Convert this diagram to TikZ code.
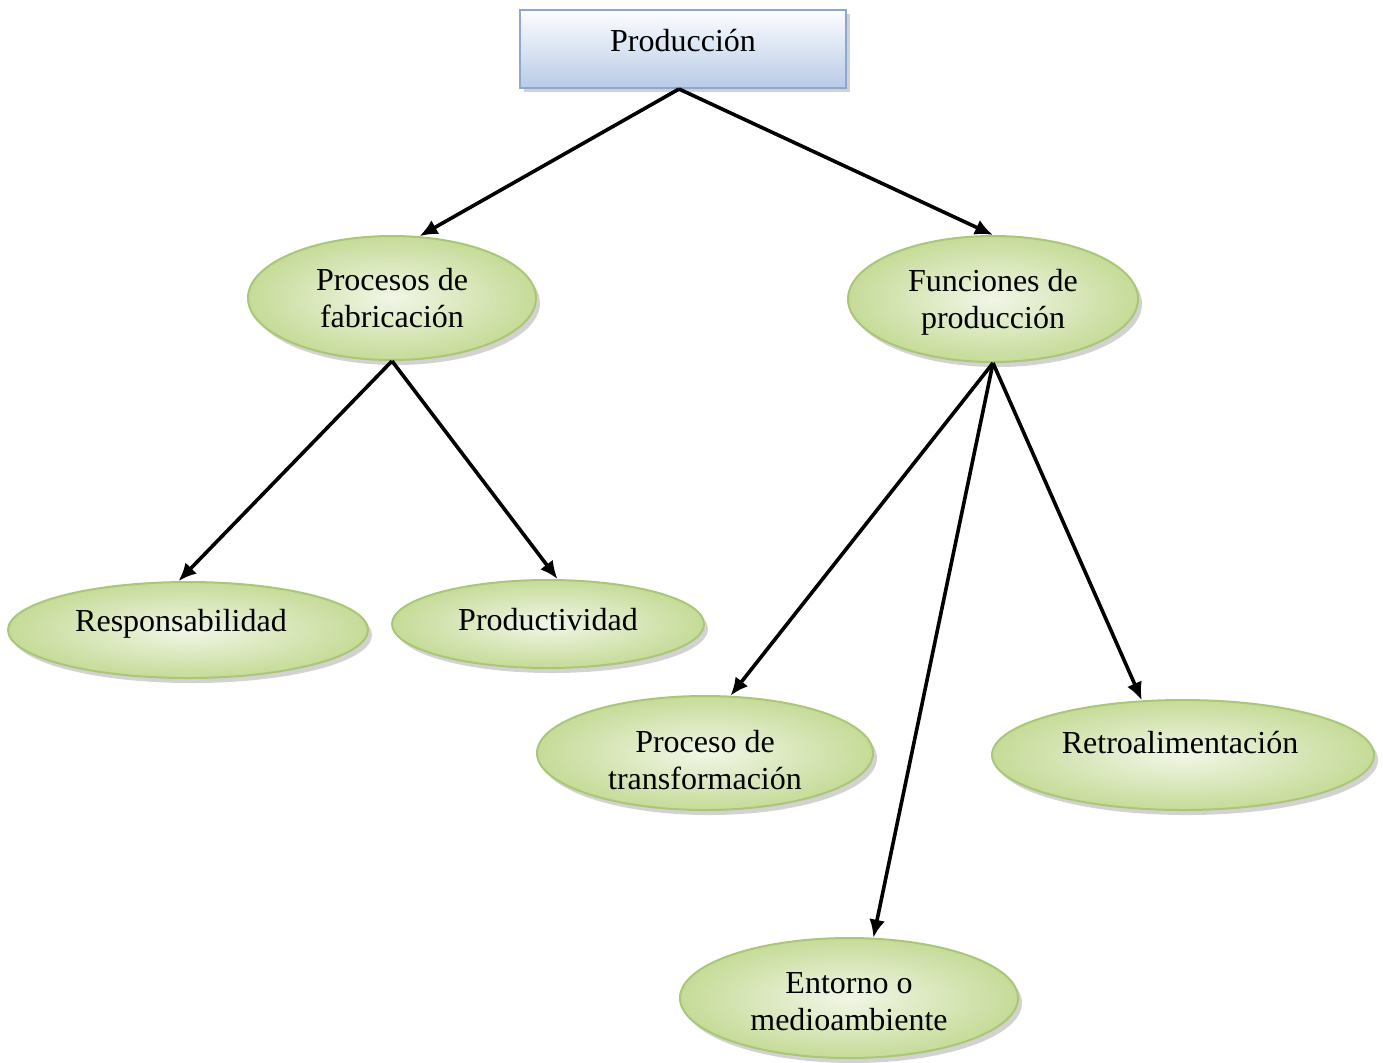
\documentclass[tikz,border=0pt]{standalone}
\usepackage{fontspec}
\setmainfont{Liberation Serif}
\usetikzlibrary{shapes.geometric,shadows,arrows.meta}
\definecolor{leafout}{RGB}{198,219,152}
\definecolor{leafin}{RGB}{241,246,230}
\definecolor{leafrim}{RGB}{170,199,120}
\definecolor{boxtop}{RGB}{252,253,255}
\definecolor{boxbot}{RGB}{184,203,230}
\definecolor{boxrim}{RGB}{140,168,206}
\begin{document}
\begin{tikzpicture}[x=0.5pt,y=-0.5pt,line width=1.5pt,
  txt/.style={font=\fontsize{16}{18.5}\selectfont, align=center, inner sep=0pt},
  leaf/.style={ellipse, draw=leafrim, line width=1pt,
    inner color=leafin, outer color=leafout,
    drop shadow={shadow xshift=2pt, shadow yshift=-2.5pt, fill=black!35}},
  topbox/.style={rectangle, draw=boxrim, line width=1pt,
    top color=boxtop, bottom color=boxbot,
    drop shadow={shadow xshift=2pt, shadow yshift=-2pt, fill=black!35}},
  arr/.style={-{Latex[length=9pt,width=8pt]}, line width=1.8pt, black}]
\useasboundingbox (0,0) rectangle (1385,1062);
% top
\node[topbox, minimum width=163pt, minimum height=39pt,
  label={[txt, yshift=4pt]center:Producción}] (prod) at (683,49) {};
% level 2
\node[leaf, minimum width=144pt, minimum height=62pt,
  label={[txt]center:Procesos de\\fabricación}] (proc) at (392,298) {};
\node[leaf, minimum width=145pt, minimum height=63pt,
  label={[txt, yshift=-1.5pt]center:Funciones de\\producción}] (func) at (993,299) {};
% level 3
\node[leaf, minimum width=180pt, minimum height=48pt,
  label={[txt, xshift=-3.5pt, yshift=3pt]center:Responsabilidad}] (resp) at (188,630) {};
\node[leaf, minimum width=156pt, minimum height=44pt,
  label={[txt, yshift=2pt]center:Productividad}] (prodv) at (548,624) {};
\node[leaf, minimum width=168pt, minimum height=57pt,
  label={[txt, yshift=-3.5pt]center:Proceso de\\transformación}] (trans) at (705,753) {};
\node[leaf, minimum width=191pt, minimum height=55pt,
  label={[txt, xshift=-1.5pt, yshift=6pt]center:Retroalimentación}] (retro) at (1183,755) {};
\node[leaf, minimum width=169pt, minimum height=60pt,
  label={[txt, yshift=-2pt]center:Entorno o\\medioambiente}] (entor) at (849,998) {};
% arrows
\draw[arr] ([xshift=-2pt]prod.south) -- (proc.66);
\draw[arr] ([xshift=-2pt]prod.south) -- (func.north);
\draw[arr] (proc.south) -- (resp.101);
\draw[arr] (proc.south) -- (prodv.78);
\draw[arr] (func.south) -- (trans.66);
\draw[arr] (func.south) -- (entor.68);
\draw[arr] (func.south) -- (retro.127);
\end{tikzpicture}
\end{document}
